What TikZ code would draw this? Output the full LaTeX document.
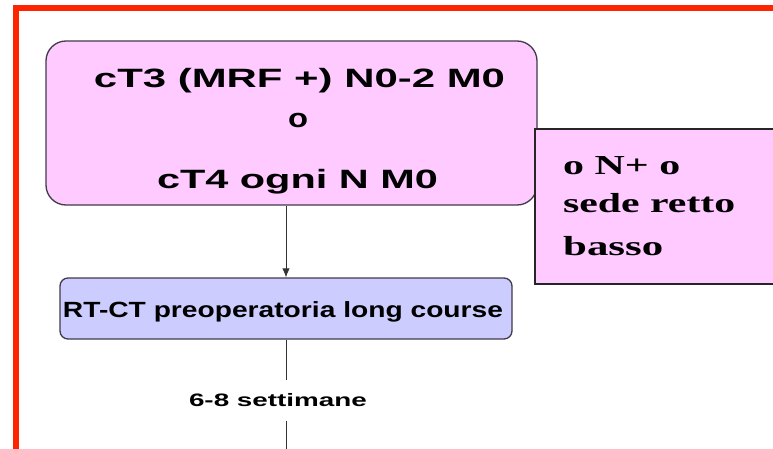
\documentclass[tikz,border=0pt]{standalone}
\usepackage{fontspec}
\usepackage{graphicx}
\setmainfont{Liberation Sans}
\newfontfamily\serifrm{Liberation Serif}
\usetikzlibrary{arrows.meta,positioning}
\definecolor{framered}{RGB}{255,36,0}
\definecolor{casepink}{RGB}{255,202,255}
\definecolor{therapyblue}{RGB}{204,204,255}
\definecolor{edgegray}{RGB}{66,58,74}
\newcommand{\fitw}[2]{\resizebox{#1}{\height}{#2}}
\tikzset{
  wire/.style={black!80,line width=0.9pt},
  flow/.style={wire,-{Latex[length=9pt,width=7.5pt]}},
  frame/.style={draw=framered,line width=6pt},
  casebox/.style={draw=edgegray,line width=1.3pt,fill=casepink,rounded corners=20pt,inner sep=0pt},
  sitebox/.style={draw=black!85,line width=1.3pt,fill=casepink,inner sep=0pt},
  therapy/.style={draw=edgegray,line width=1.3pt,fill=therapyblue,rounded corners=8pt,inner sep=0pt},
  headtxt/.style={font=\fontsize{26.5}{30}\selectfont\bfseries,inner sep=0pt,anchor=base},
  sitetxt/.style={font=\serifrm\fontsize{27.5}{32}\selectfont\bfseries,inner sep=0pt,anchor=base west},
  steptxt/.style={font=\fontsize{22}{25}\selectfont\bfseries,inner sep=0pt,anchor=base},
  gaptxt/.style={font=\fontsize{18}{20}\selectfont\bfseries,inner sep=0pt,minimum height=41pt},
}

\begin{document}
\begin{tikzpicture}[x=1pt,y=1pt]
  \path[use as bounding box] (0,0) rectangle (773,448);
  \clip (0,0) rectangle (773,448);
  \fill[white] (0,0) rectangle (773,448);
  \draw[frame] (15.5,-20) rectangle (800,439.8);

  \node[casebox,minimum width=491pt,minimum height=164pt] (case) at (291.5,325) {};
  \node[sitebox,minimum width=255pt,minimum height=155pt] (site) at (662.5,241.5) {};

  \node[headtxt] (ln1) at (299.5,360) {\fitw{411pt}{cT3 (MRF +) N0-2 M0}};
  \node[headtxt] (ln2) at (298,320) {\fitw{20pt}{o}};
  \node[headtxt] (ln3) at (297.5,260) {\fitw{281pt}{cT4 ogni N M0}};

  \node[sitetxt] (st1) at (563,274) {\fitw{117pt}{o N+ o}};
  \node[sitetxt] (st2) at (563,236) {\fitw{172pt}{sede retto}};
  \node[sitetxt] (st3) at (563,193) {\fitw{100pt}{basso}};

  \node[therapy,minimum width=452pt,minimum height=61pt] (rt) at (286,139.5) {};
  \node[steptxt] (rttxt) at (283,131) {\fitw{440pt}{RT-CT preoperatoria long course}};

  \node[gaptxt] (wk) at (278,47.5) {\fitw{178pt}{6-8 settimane}};
  \coordinate (out) at (286,-5);

  \draw[flow] (case.south -| rt.north) -- (rt.north);
  \draw[wire] (rt.south) -- (rt.south |- wk.north);
  \draw[wire] (rt.south |- wk.south) -- (out);
\end{tikzpicture}
\end{document}
